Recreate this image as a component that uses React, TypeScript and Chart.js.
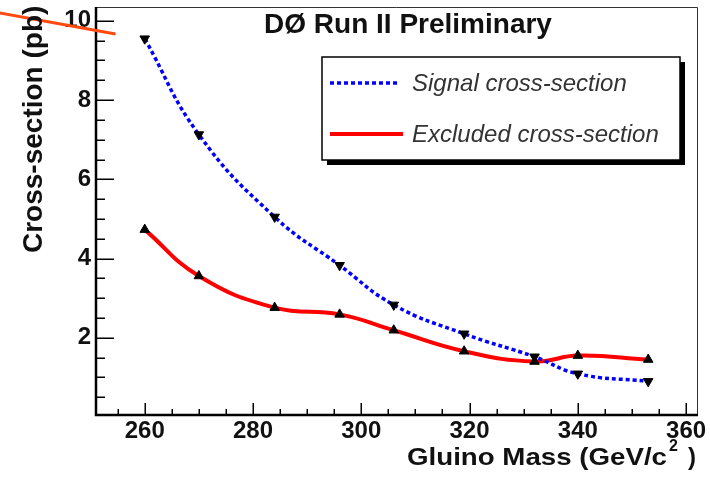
import React, { useEffect, useRef } from "react";
import { Chart, registerables } from "chart.js";

Chart.register(...registerables);

// ---- data ----
const gluinoMass = [260, 270, 284, 296, 306, 319, 332, 340, 353];
const signalXsec = [9.55, 7.13, 5.05, 3.83, 2.83, 2.1, 1.52, 1.09, 0.9];
const excludedXsec = [4.73, 3.56, 2.76, 2.59, 2.19, 1.66, 1.4, 1.55, 1.45];
const seriesLabels = ["Signal cross-section", "Excluded cross-section"];
const xTickValues = [260, 280, 300, 320, 340, 360];
const yTickValues = [2, 4, 6, 8, 10];
const strayLineX = [233.2, 254.6];
const strayLineY = [10.2, 9.67];
const titleText = "DØ Run II Preliminary";
const xTitleText = "Gluino Mass (GeV/c";
const xTitleSup = "2";
const yTitleText = "Cross-section (pb)";

const FONT = "'Liberation Sans', Arial, sans-serif";

const decor = {
  id: "decor",
  beforeDatasetsDraw(chart: any) {
    const { ctx, chartArea: a, scales } = chart;
    const x = scales.x;
    const y = scales.y;
    ctx.save();
    // thin top/right frame
    ctx.strokeStyle = "#333";
    ctx.lineWidth = 1;
    ctx.beginPath();
    ctx.moveTo(a.left, a.top + 0.5);
    ctx.lineTo(a.right - 0.5, a.top + 0.5);
    ctx.lineTo(a.right - 0.5, a.bottom);
    ctx.stroke();
    // ticks
    ctx.strokeStyle = "#000";
    ctx.lineWidth = 1.5;
    ctx.beginPath();
    for (let v = 0.5; v <= y.max + 1e-9; v += 0.5) {
      const py = Math.round(y.getPixelForValue(v)) + 0.25;
      const major = Math.abs(v / 2 - Math.round(v / 2)) < 1e-6;
      ctx.moveTo(a.left, py);
      ctx.lineTo(a.left + (major ? 18 : 9), py);
    }
    for (let v = 255; v <= x.max + 1e-9; v += 5) {
      const px = Math.round(x.getPixelForValue(v)) + 0.25;
      const major = v % 20 === 0;
      ctx.moveTo(px, a.bottom);
      ctx.lineTo(px, a.bottom - (major ? 12 : 6));
    }
    ctx.stroke();
    // thick axes
    ctx.lineWidth = 2.5;
    ctx.beginPath();
    ctx.moveTo(a.left, a.top);
    ctx.lineTo(a.left, a.bottom);
    ctx.lineTo(a.right, a.bottom);
    ctx.stroke();
    ctx.restore();
  },
  afterDraw(chart: any) {
    const { ctx } = chart;
    const ds = chart.data.datasets;
    ctx.save();
    // title
    ctx.fillStyle = "#111";
    ctx.font = `bold 28px ${FONT}`;
    ctx.textAlign = "center";
    ctx.textBaseline = "alphabetic";
    ctx.fillText(titleText, 408, 33);

    // x title (stretched horizontally to the reference width)
    ctx.font = `bold 24px ${FONT}`;
    ctx.textAlign = "left";
    const w = ctx.measureText(xTitleText).width;
    const sx = 260 / w;
    ctx.save();
    ctx.translate(407, 465);
    ctx.scale(sx, 1);
    ctx.fillText(xTitleText, 0, 0);
    ctx.restore();
    ctx.fillText(")", 407 + 260 + 21, 465);
    ctx.font = `bold 16px ${FONT}`;
    ctx.fillText(xTitleSup, 407 + 260 + 2, 451);

    // y title
    ctx.save();
    ctx.translate(42, 253);
    ctx.rotate(-Math.PI / 2);
    ctx.font = `bold 28px ${FONT}`;
    ctx.textAlign = "left";
    ctx.fillText(yTitleText, 0, 0);
    ctx.restore();

    // legend
    const bx = 322, by = 57, bw = 358, bh = 103;
    ctx.fillStyle = "#000";
    ctx.fillRect(bx + 5, by + 5, bw, bh);
    ctx.fillStyle = "#fff";
    ctx.fillRect(bx, by, bw, bh);
    ctx.strokeStyle = "#000";
    ctx.lineWidth = 1.5;
    ctx.strokeRect(bx, by, bw, bh);
    const rows = [83, 134];
    for (let i = 0; i < 2; i++) {
      const d = ds[i];
      ctx.strokeStyle = d.borderColor;
      ctx.lineWidth = d.borderWidth;
      ctx.setLineDash(d.borderDash || []);
      ctx.beginPath();
      ctx.moveTo(330, rows[i]);
      ctx.lineTo(i === 0 ? 398 : 403, rows[i]);
      ctx.stroke();
      ctx.setLineDash([]);
      ctx.fillStyle = "#333";
      ctx.font = `italic 24px ${FONT}`;
      ctx.textBaseline = "middle";
      ctx.fillText(d.label, 412, rows[i] + 1);
    }
    ctx.restore();
  },
};

export default function App() {
  const ref = useRef<HTMLCanvasElement>(null);
  useEffect(() => {
    if (!ref.current) return;
    const chart = new Chart(ref.current, {
      type: "line",
      data: {
        datasets: [
          {
            label: seriesLabels[0],
            data: gluinoMass.map((m, i) => ({ x: m, y: signalXsec[i] })),
            borderColor: "#0000ff",
            borderWidth: 3.5,
            borderDash: [4, 3],
            tension: 0.45,
            pointStyle: "triangle",
            rotation: 180,
            pointRadius: 5.5,
            pointBackgroundColor: "#000",
            pointBorderColor: "#000",
            pointBorderWidth: 1,
            fill: false,
          },
          {
            label: seriesLabels[1],
            data: gluinoMass.map((m, i) => ({ x: m, y: excludedXsec[i] })),
            borderColor: "#ff0000",
            borderWidth: 4,
            tension: 0.45,
            pointStyle: "triangle",
            pointRadius: 5.5,
            pointBackgroundColor: "#000",
            pointBorderColor: "#000",
            pointBorderWidth: 1,
            fill: false,
          },
          {
            label: "",
            data: strayLineX.map((v, i) => ({ x: v, y: strayLineY[i] })),
            borderColor: "#ff4a10",
            borderWidth: 3,
            pointRadius: 0,
            clip: false as any,
            fill: false,
          },
        ],
      },
      options: {
        responsive: false,
        animation: false,
        layout: { padding: { top: 7, right: 12, left: 0, bottom: 0 } },
        plugins: { legend: { display: false }, tooltip: { enabled: false } },
        scales: {
          x: {
            type: "linear",
            min: 251,
            max: 362.2,
            grid: { display: false, drawTicks: false },
            border: { display: false },
            afterBuildTicks: (s: any) => {
              s.ticks = xTickValues.map((v) => ({ value: v }));
            },
            afterFit: (s: any) => {
              s.height = 62;
              s.paddingLeft = 0;
              s.paddingRight = 0;
            },
            ticks: {
              padding: 2,
              color: "#111",
              font: { family: FONT, size: 24, weight: "bold" },
              maxRotation: 0,
              autoSkip: false,
            },
          },
          y: {
            type: "linear",
            min: 0.05,
            max: 10.35,
            grid: { display: false, drawTicks: false },
            border: { display: false },
            afterBuildTicks: (s: any) => {
              s.ticks = yTickValues.map((v) => ({ value: v }));
            },
            afterFit: (s: any) => {
              s.width = 96;
              s.paddingTop = 0;
              s.paddingBottom = 0;
            },
            ticks: {
              padding: 5,
              color: "#111",
              font: { family: FONT, size: 24, weight: "bold" },
              autoSkip: false,
            },
          },
        },
      },
      plugins: [decor],
    });
    return () => chart.destroy();
  }, []);
  return (
    <div style={{ position: "absolute", left: 0, top: 0, width: 710, height: 477, background: "#fff" }}>
      <canvas ref={ref} width={710} height={477} style={{ display: "block" }} />
    </div>
  );
}
